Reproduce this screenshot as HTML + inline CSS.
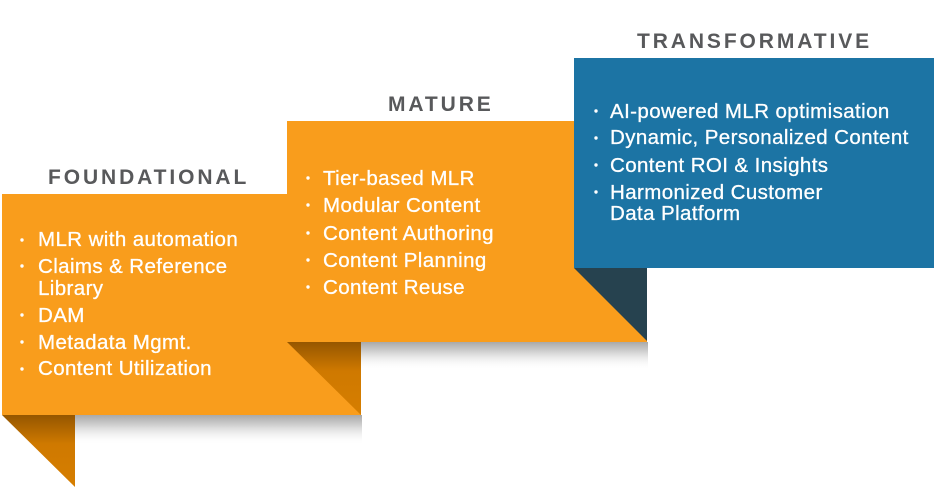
<!DOCTYPE html>
<html>
<head>
<meta charset="utf-8">
<style>
html,body{margin:0;padding:0;background:#fff;}
svg{display:block;}
text{font-family:"Liberation Sans",Arial,sans-serif;}
.h{font-size:21px;font-weight:bold;fill:#58595b;letter-spacing:2.9px;}
.t{font-size:20.5px;fill:#ffffff;letter-spacing:0.4px;stroke:#ffffff;stroke-width:0.3px;}
</style>
</head>
<body>
<svg width="935" height="492" viewBox="0 0 935 492" xmlns="http://www.w3.org/2000/svg">
<defs>
<linearGradient id="sh" x1="0" y1="0" x2="0" y2="1">
<stop offset="0" stop-color="#a9a9a9"/>
<stop offset="0.35" stop-color="#d2d2d2"/>
<stop offset="1" stop-color="#ffffff" stop-opacity="0"/>
</linearGradient>
<linearGradient id="fold" x1="0" y1="0" x2="0" y2="1">
<stop offset="0" stop-color="#955600"/>
<stop offset="0.4" stop-color="#cf7900"/>
<stop offset="1" stop-color="#d67e00"/>
</linearGradient>
</defs>

<!-- shadows -->
<rect x="75" y="415" width="287" height="30" fill="url(#sh)"/>
<rect x="361" y="342" width="287" height="28" fill="url(#sh)"/>

<!-- foundational -->
<rect x="2" y="194" width="359" height="221" fill="#f99d1c"/>
<polygon points="2,415 75,415 75,487" fill="url(#fold)"/>

<!-- mature -->
<rect x="287" y="121" width="360" height="221" fill="#f99d1c"/>
<polygon points="287,342 361,342 361,415" fill="url(#fold)"/>

<!-- transformative -->
<rect x="574" y="58" width="360" height="210" fill="#1c74a4"/>
<polygon points="574,268 647,268 647,341" fill="#26424f"/>

<!-- headers -->
<text class="h" x="48" y="184">FOUNDATIONAL</text>
<text class="h" x="388" y="111">MATURE</text>
<text class="h" x="637" y="48">TRANSFORMATIVE</text>

<!-- foundational items -->
<g fill="#fff">
<circle cx="22" cy="240" r="1.7"/>
<circle cx="22" cy="266" r="1.7"/>
<circle cx="22" cy="315" r="1.7"/>
<circle cx="22" cy="342" r="1.7"/>
<circle cx="22" cy="369" r="1.7"/>
</g>
<text class="t" x="38" y="246">MLR with automation</text>
<text class="t" x="38" y="273">Claims &amp; Reference</text>
<text class="t" x="38" y="295">Library</text>
<text class="t" x="38" y="322">DAM</text>
<text class="t" x="38" y="349">Metadata Mgmt.</text>
<text class="t" x="38" y="375">Content Utilization</text>

<!-- mature items -->
<g fill="#fff">
<circle cx="308" cy="178" r="1.7"/>
<circle cx="308" cy="205" r="1.7"/>
<circle cx="308" cy="233" r="1.7"/>
<circle cx="308" cy="260" r="1.7"/>
<circle cx="308" cy="287" r="1.7"/>
</g>
<text class="t" x="323" y="185">Tier-based MLR</text>
<text class="t" x="323" y="212">Modular Content</text>
<text class="t" x="323" y="240">Content Authoring</text>
<text class="t" x="323" y="267">Content Planning</text>
<text class="t" x="323" y="294">Content Reuse</text>

<!-- transformative items -->
<g fill="#fff">
<circle cx="596" cy="111" r="1.7"/>
<circle cx="596" cy="138" r="1.7"/>
<circle cx="596" cy="165" r="1.7"/>
<circle cx="596" cy="192" r="1.7"/>
</g>
<text class="t" x="610" y="118">AI-powered MLR optimisation</text>
<text class="t" x="610" y="144">Dynamic, Personalized Content</text>
<text class="t" x="610" y="172">Content ROI &amp; Insights</text>
<text class="t" x="610" y="199">Harmonized Customer</text>
<text class="t" x="610" y="220">Data Platform</text>
</svg>
</body>
</html>
